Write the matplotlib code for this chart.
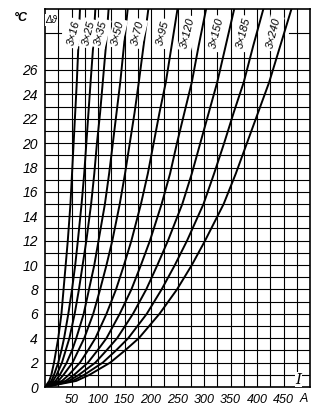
import matplotlib
matplotlib.use("Agg")
import matplotlib.pyplot as plt
import numpy as np

# Temperature rise levels (°C) at which currents were read
dtheta = [0, 0.5, 1, 2, 3, 4, 6, 8, 10, 12, 15, 17.5, 20, 22.5, 25, 28, 31]

# Currents (A) for each cable cross-section at the levels above
cables = ["3×16", "3×25", "3×35", "3×50", "3×70", "3×95", "3×120", "3×150", "3×185", "3×240"]
I_3x16 = [0, 8, 12, 17, 21, 25, 31, 35, 39, 43, 48, 51, 54, 57, 60, 63, 66]
I_3x25 = [0, 12, 17, 25, 31, 36, 44, 51, 57, 62, 69, 74, 78, 82, 86, 91, 95]
I_3x35 = [0, 15, 22, 32, 39, 46, 56, 64, 71, 78, 87, 93, 98, 104, 109, 115, 120]
I_3x50 = [0, 20, 28, 41, 51, 59, 73, 83, 93, 101, 113, 121, 128, 135, 142, 149, 156]
I_3x70 = [0, 25, 35, 52, 63, 74, 91, 104, 116, 127, 141, 151, 160, 169, 177, 186, 195]
I_3x95 = [0, 32, 45, 66, 81, 95, 116, 134, 149, 163, 181, 194, 205, 216, 228, 239, 250]
I_3x120 = [0, 39, 55, 81, 99, 116, 141, 163, 181, 198, 220, 236, 249, 263, 277, 290, 304]
I_3x150 = [0, 45, 64, 95, 116, 136, 166, 191, 212, 232, 259, 277, 293, 309, 325, 341, 357]
I_3x185 = [0, 52, 74, 109, 134, 157, 192, 220, 245, 268, 299, 319, 338, 356, 375, 393, 412]
I_3x240 = [0, 59, 84, 123, 151, 177, 216, 249, 277, 302, 337, 360, 381, 402, 423, 444, 465]
currents = [I_3x16, I_3x25, I_3x35, I_3x50, I_3x70, I_3x95, I_3x120, I_3x150, I_3x185, I_3x240]

# label anchor currents (A) near the top of the chart
label_I = [55, 82, 106, 137, 175, 222, 270, 323, 374, 431]

xticks = [50, 100, 150, 200, 250, 300, 350, 400, 450]
yticks = list(range(0, 27, 2))

W, H = 333, 411
fig = plt.figure(figsize=(W / 100, H / 100), dpi=100)
ax = fig.add_axes([45 / W, 1 - 387 / H, 265 / W, 378 / H])
ax.set_xlim(0, 500)
ax.set_ylim(0, 31)

FONT = "Liberation Sans"

# grid
for x in np.arange(25, 500, 25):
    ax.plot([x, x], [0, 31], color="black", lw=0.8, zorder=1)
for y in range(1, 28):
    ax.plot([0, 500], [y, y], color="black", lw=0.8, zorder=1)
ax.plot([0, 30], [29, 29], color="black", lw=0.8, zorder=1)
ax.plot([460, 500], [29, 29], color="black", lw=0.8, zorder=1)

for spine in ax.spines.values():
    spine.set_linewidth(1.2)

# curves
for name, I, lx in zip(cables, currents, label_I):
    ax.plot(I, dtheta, color="black", lw=1.4, zorder=3, clip_on=True)
    ax.text(lx, 29.0, name, rotation=76, ha="center", va="center",
            fontsize=8, fontstyle="italic", family=FONT, zorder=4,
            bbox=dict(facecolor="white", edgecolor="none", pad=1.5))

ax.set_xticks(xticks)
ax.set_xticklabels([str(v) for v in xticks], fontsize=9, fontstyle="italic", family=FONT)
ax.set_yticks(yticks)
ax.set_yticklabels([str(v) for v in yticks], fontsize=10, fontstyle="italic", family=FONT)
ax.tick_params(length=0, pad=5)
ax.text(488, -0.95, "A", ha="center", va="center", fontsize=9,
        fontstyle="italic", family=FONT, clip_on=False)

ax.text(-0.09, 0.975, "°C", transform=ax.transAxes, ha="center", va="center",
        fontsize=9, fontstyle="italic", family=FONT, fontweight="bold")
ax.text(12, 30.1, "Δϑ", ha="center", va="center", fontsize=7,
        fontstyle="italic", family=FONT, zorder=5,
        bbox=dict(facecolor="white", edgecolor="none", pad=0.5))
ax.text(478, 0.6, "I", ha="center", va="center", fontsize=11,
        fontstyle="italic", family="DejaVu Serif", zorder=5,
        bbox=dict(facecolor="white", edgecolor="none", pad=0.5))

fig.savefig("out.png", dpi=100)
